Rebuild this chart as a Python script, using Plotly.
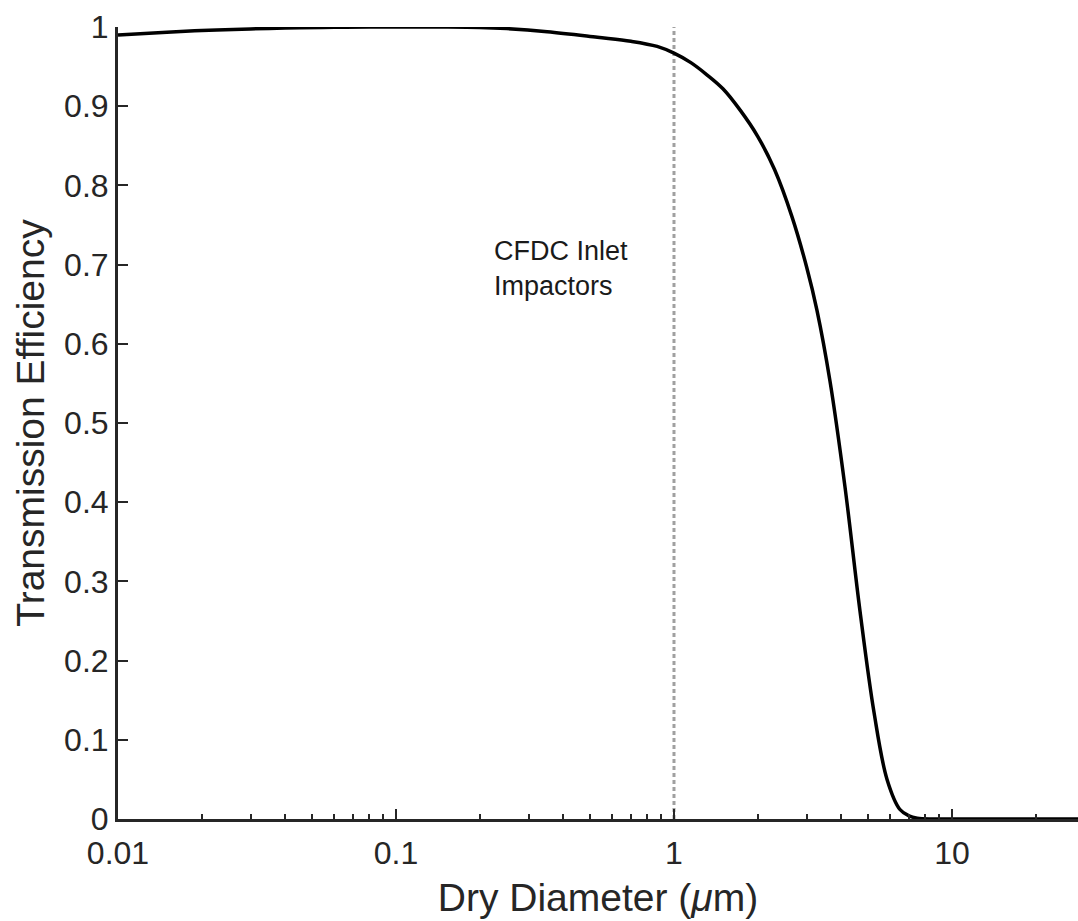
import math
import plotly.graph_objects as go

diameter_um = [0.01, 0.015, 0.02, 0.026, 0.035, 0.045, 0.06, 0.08, 0.15, 0.2, 0.25, 0.35, 0.53,
               0.70, 0.87, 1.0, 1.15, 1.31, 1.5, 1.73, 2.0, 2.3, 2.66, 3.0, 3.27, 3.64, 4.12,
               4.67, 5.24, 5.84, 6.5, 7.0, 7.5, 8.5, 10.0, 30.0]
efficiency = [0.990, 0.9935, 0.9955, 0.9970, 0.9982, 0.9990, 0.9996, 0.9999, 1.000, 0.9995, 0.998,
              0.994, 0.987, 0.982, 0.9755, 0.967, 0.955, 0.940, 0.922, 0.895, 0.862, 0.820, 0.760,
              0.697, 0.642, 0.553, 0.420, 0.262, 0.135, 0.050, 0.012, 0.004, 0.001, 0.0, 0.0, 0.0]

cutoff_x = [1.0, 1.0]
cutoff_y = [0.0, 1.0]

x_tickvals = [0.01, 0.1, 1, 10]
x_ticktext = ["0.01", "0.1", "1", "10"]
x_minor = [k * 10.0 ** e for e in (-2, -1, 0) for k in range(2, 10)] + [20]
y_tickvals = [0, 0.1, 0.2, 0.3, 0.4, 0.5, 0.6, 0.7, 0.8, 0.9, 1]
y_ticktext = ["0", "0.1", "0.2", "0.3", "0.4", "0.5", "0.6", "0.7", "0.8", "0.9", "1"]

FONT = "Liberation Sans, Arial, Helvetica, sans-serif"
AX = "#262626"

fig = go.Figure()
fig.add_trace(go.Scatter(x=cutoff_x, y=cutoff_y, mode="lines",
                         line=dict(color="#a0a0a0", width=3, dash="4px,3px"),
                         showlegend=False, hoverinfo="skip"))
fig.add_trace(go.Scatter(x=diameter_um, y=efficiency, mode="lines",
                         line=dict(color="black", width=3.5, shape="spline", smoothing=1.0),
                         cliponaxis=False, showlegend=False))

fig.add_annotation(x=math.log10(0.222), y=0.695, xref="x", yref="y",
                   text="CFDC Inlet<br>Impactors", showarrow=False,
                   xanchor="left", yanchor="middle", align="left",
                   font=dict(family=FONT, size=27, color="#1a1a1a"))

fig.update_layout(
    width=1078, height=921,
    margin=dict(l=118, r=0, t=27, b=102),
    paper_bgcolor="white", plot_bgcolor="white",
    font=dict(family=FONT, color=AX),
    xaxis=dict(type="log", range=[-2, math.log10(28.4)],
               tickmode="array", tickvals=x_tickvals, ticktext=x_ticktext,
               ticks="inside", ticklen=10, tickwidth=2, tickcolor=AX,
               minor=dict(tickmode="array", tickvals=x_minor, ticks="inside",
                          ticklen=5, tickwidth=2, tickcolor=AX, showgrid=False),
               showline=True, linecolor=AX, linewidth=3, showgrid=False, zeroline=False,
               ticklabelstandoff=4,
               tickfont=dict(size=32, color=AX),
               title=dict(text="Dry Diameter (<i>μ</i>m)", font=dict(size=39, color=AX), standoff=14)),
    yaxis=dict(range=[0, 1], tickmode="array", tickvals=y_tickvals, ticktext=y_ticktext,
               ticks="inside", ticklen=10, tickwidth=2, tickcolor=AX,
               showline=True, linecolor=AX, linewidth=3, showgrid=False, zeroline=False,
               tickfont=dict(size=32, color=AX),
               title=dict(text="Transmission Efficiency", font=dict(size=39, color=AX), standoff=8)),
)

fig.write_html("out.html")
